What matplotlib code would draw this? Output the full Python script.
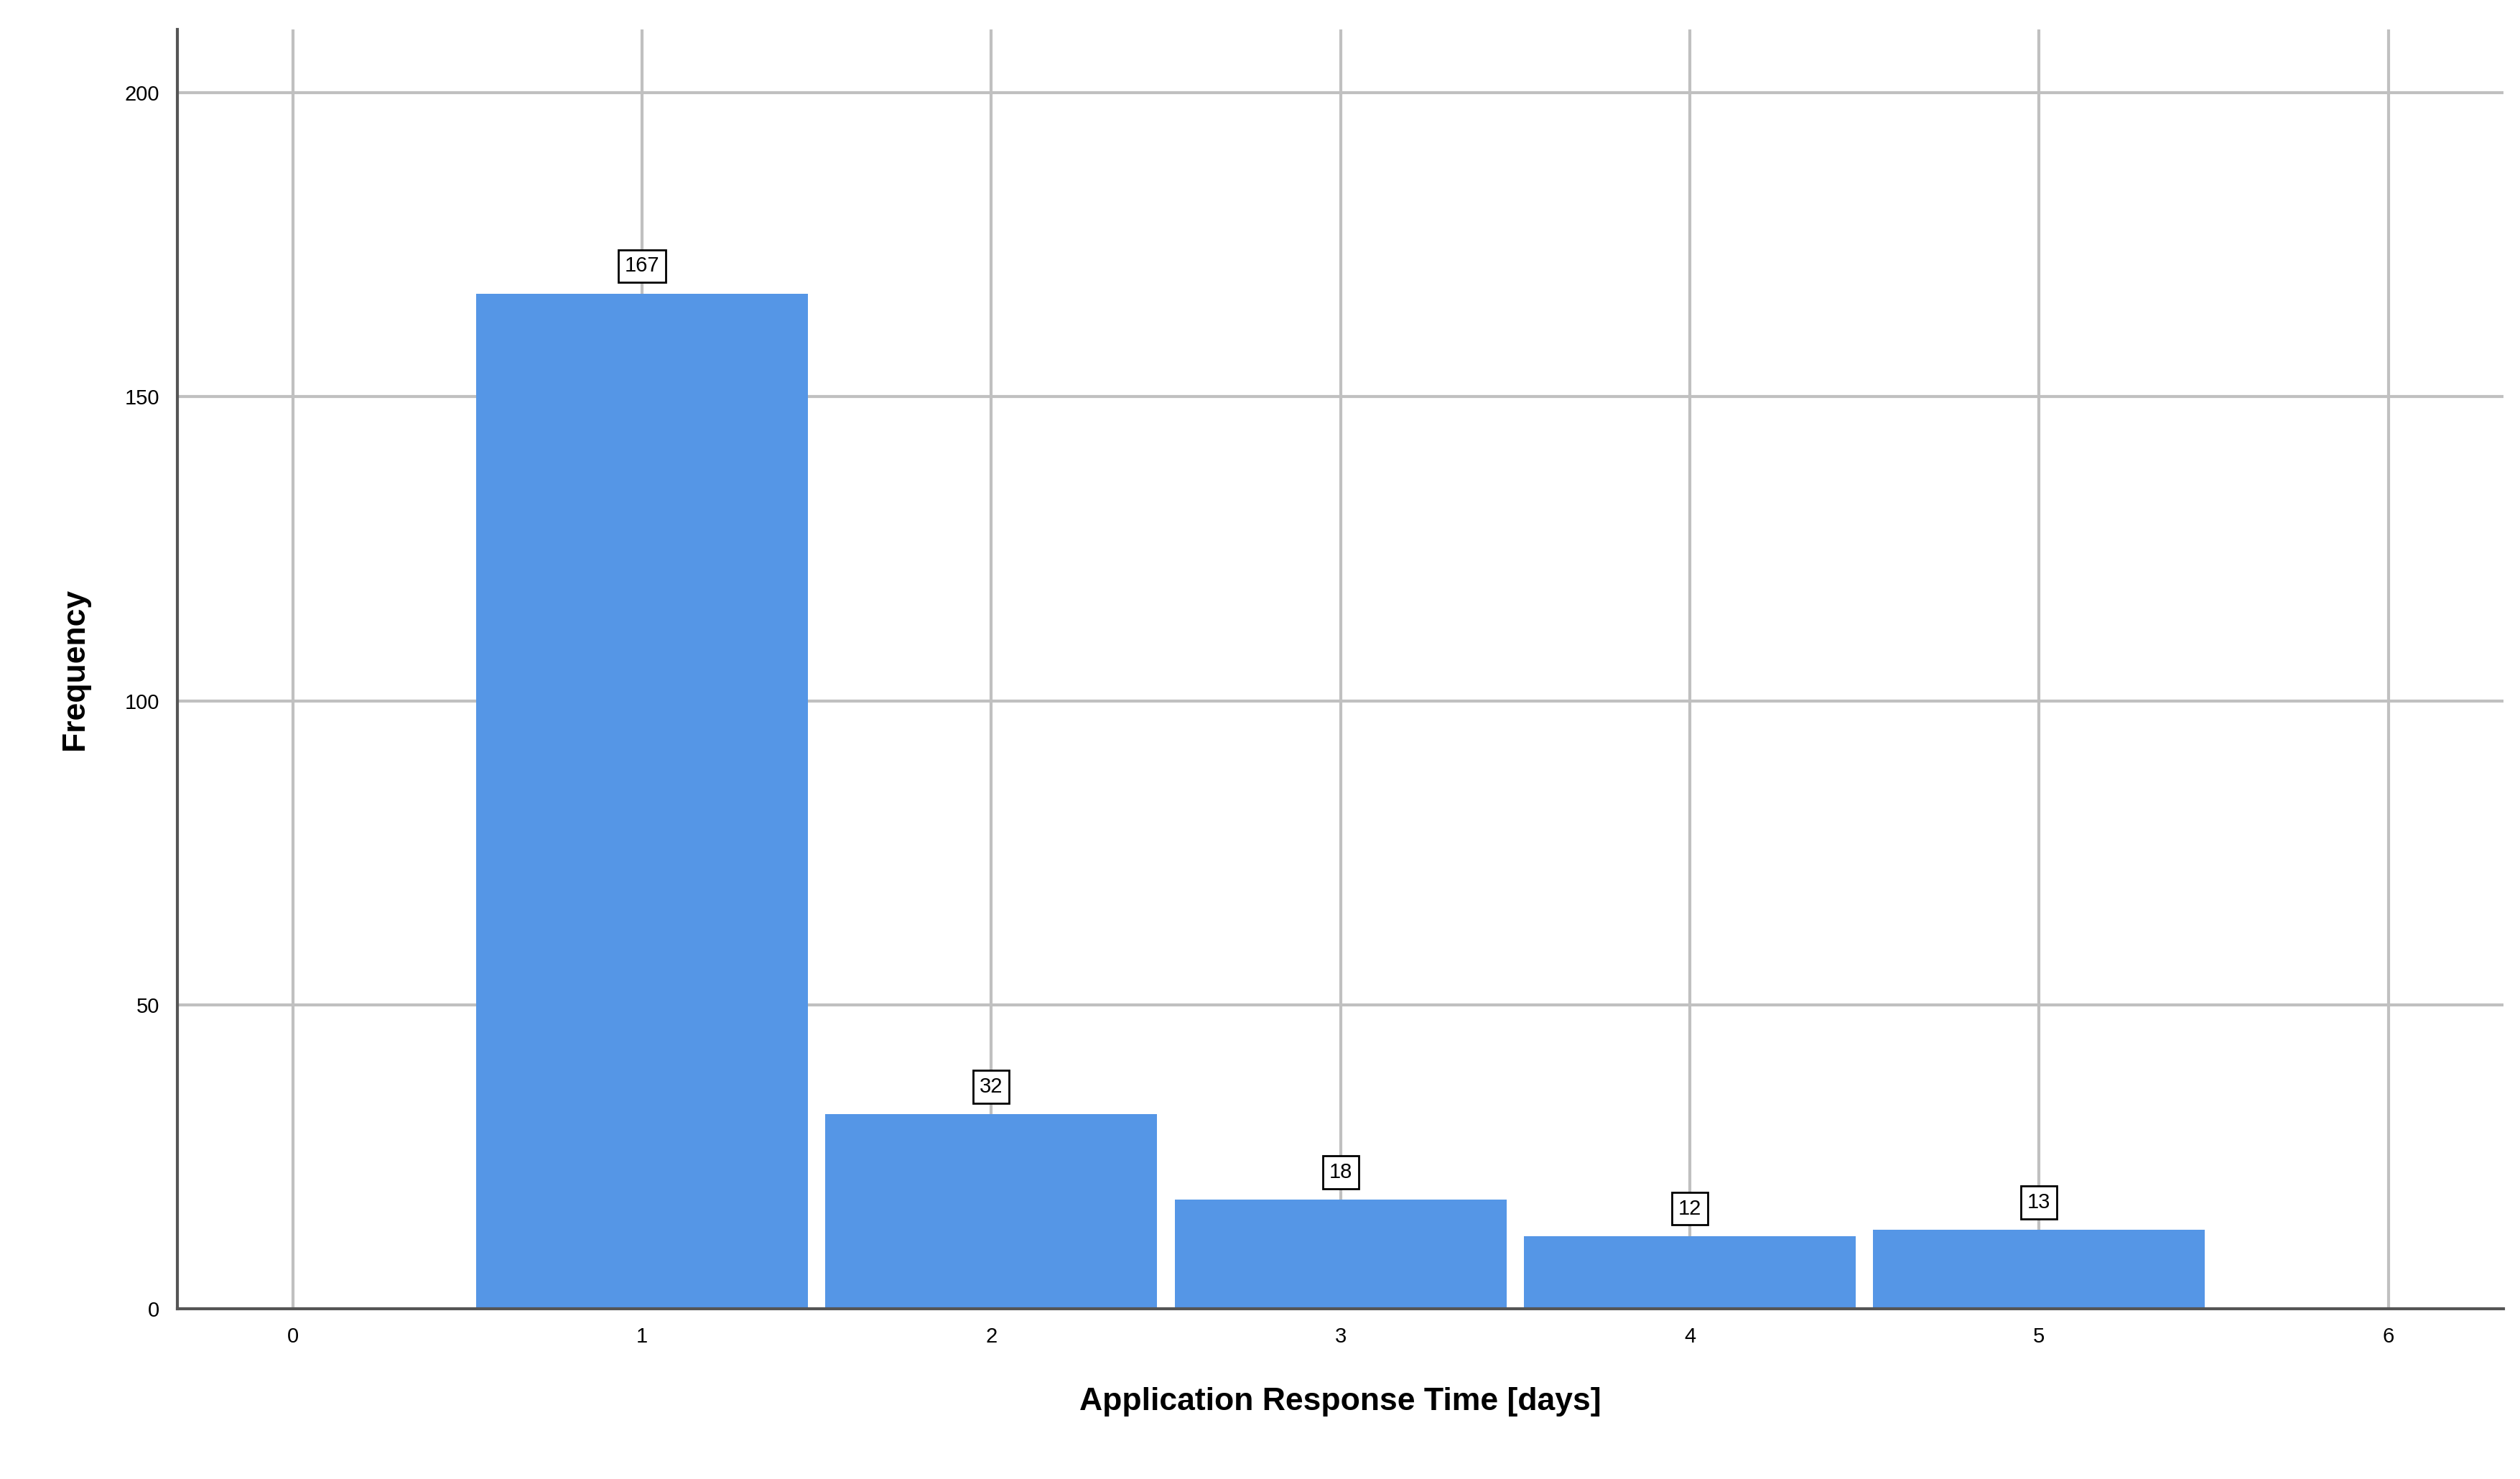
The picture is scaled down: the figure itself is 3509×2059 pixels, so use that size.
import matplotlib
matplotlib.use("Agg")
import matplotlib.pyplot as plt

days = [1, 2, 3, 4, 5]
freq = [167, 32, 18, 12, 13]
xticks = [0, 1, 2, 3, 4, 5, 6]
yticks = [0, 50, 100, 150, 200]

plt.rcParams['font.family'] = ['Liberation Sans', 'DejaVu Sans']
fig = plt.figure(figsize=(35.09, 20.59), dpi=100)
ax = fig.add_axes([0.0705, 0.115, 0.923, 0.865])
ax.set_xlim(-0.33, 6.33)
ax.set_ylim(0, 210.4)
ax.set_axisbelow(True)
ax.grid(True, color='#c0c0c0', linewidth=3)
ax.bar(days, freq, width=0.95, color='#5596E6', edgecolor='none')
for d, f in zip(days, freq):
    ax.text(d, f + 4.5, str(f), ha='center', va='center', fontsize=21,
            bbox=dict(boxstyle='square,pad=0.3', fc='white', ec='black', lw=2))
ax.set_xticks(xticks)
ax.set_yticks(yticks)
ax.tick_params(labelsize=21, length=0, pad=18)
for s in ['top', 'right']:
    ax.spines[s].set_visible(False)
for s in ['left', 'bottom']:
    ax.spines[s].set_color('#555555')
    ax.spines[s].set_linewidth(3)
ax.set_xlabel('Application Response Time [days]', fontsize=32, fontweight='bold', labelpad=40)
ax.set_ylabel('Frequency', fontsize=32, fontweight='bold', labelpad=35)
fig.savefig('out.png', dpi=100, facecolor='white')
